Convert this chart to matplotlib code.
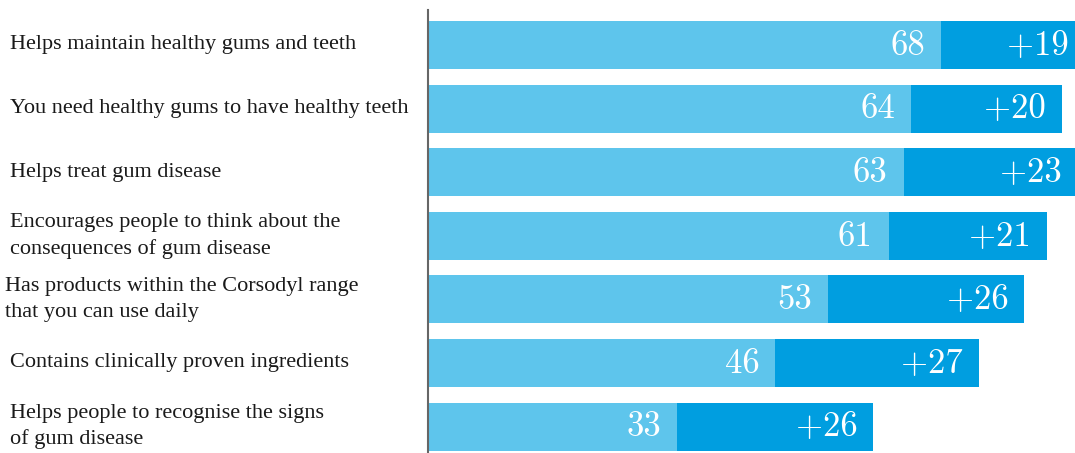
import matplotlib
matplotlib.use("Agg")
import matplotlib.pyplot as plt

categories = [
    "Helps maintain healthy gums and teeth",
    "You need healthy gums to have healthy teeth",
    "Helps treat gum disease",
    "Encourages people to think about the\nconsequences of gum disease",
    "Has products within the Corsodyl range\nthat you can use daily",
    "Contains clinically proven ingredients",
    "Helps people to recognise the signs\nof gum disease",
]
base_values = [68, 64, 63, 61, 53, 46, 33]
increase_values = [19, 20, 23, 21, 26, 27, 26]
label_x_px = [10, 10, 10, 10, 5, 10, 10]

light = "#5EC5EC"
dark = "#009EE0"

W, H = 1075, 453
SCALE = 7.55  # px per unit
fig = plt.figure(figsize=(W / 100, H / 100), dpi=100)
ax_left = 428 / W
ax = fig.add_axes([ax_left, 0, 1 - ax_left, 1])

n = len(categories)
ys = list(range(n))
ax.barh(ys, base_values, height=0.755, color=light, left=0, zorder=2)
ax.barh(ys, increase_values, height=0.755, color=dark, left=base_values, zorder=2)

ax.set_xlim(0, (W - 428) / SCALE)
px_per_unit = 63.6
top_val = -45 / px_per_unit
bottom_val = (H - 45) / px_per_unit
ax.set_ylim(bottom_val, top_val)

for s in ax.spines.values():
    s.set_visible(False)
ax.set_xticks([])
ax.set_yticks([])
ax.plot([0, 0], [(10 - 45) / px_per_unit, bottom_val], color="#666666",
        lw=1.5, clip_on=False, zorder=3)

pad = 16 / SCALE
dy = 1.0 / px_per_unit
num_font = dict(family=["cmr10", "DejaVu Serif"], fontsize=25)
for y, b, inc in zip(ys, base_values, increase_values):
    ax.text(b - pad, y + dy, f"{b}", ha="right", va="center", color="white",
            zorder=4, **num_font)
    ax.text(b + inc - pad, y + dy, f"+{inc}", ha="right", va="center",
            color="white", zorder=4, clip_on=False, **num_font)

for y, lab, lx in zip(ys, categories, label_x_px):
    fy = 1 - (45 + y * px_per_unit) / H
    fig.text(lx / W, fy, lab, ha="left", va="center", fontsize=16,
             family="Liberation Serif", color="#1a1a1a", linespacing=1.45)

fig.savefig("out.png", dpi=100)
